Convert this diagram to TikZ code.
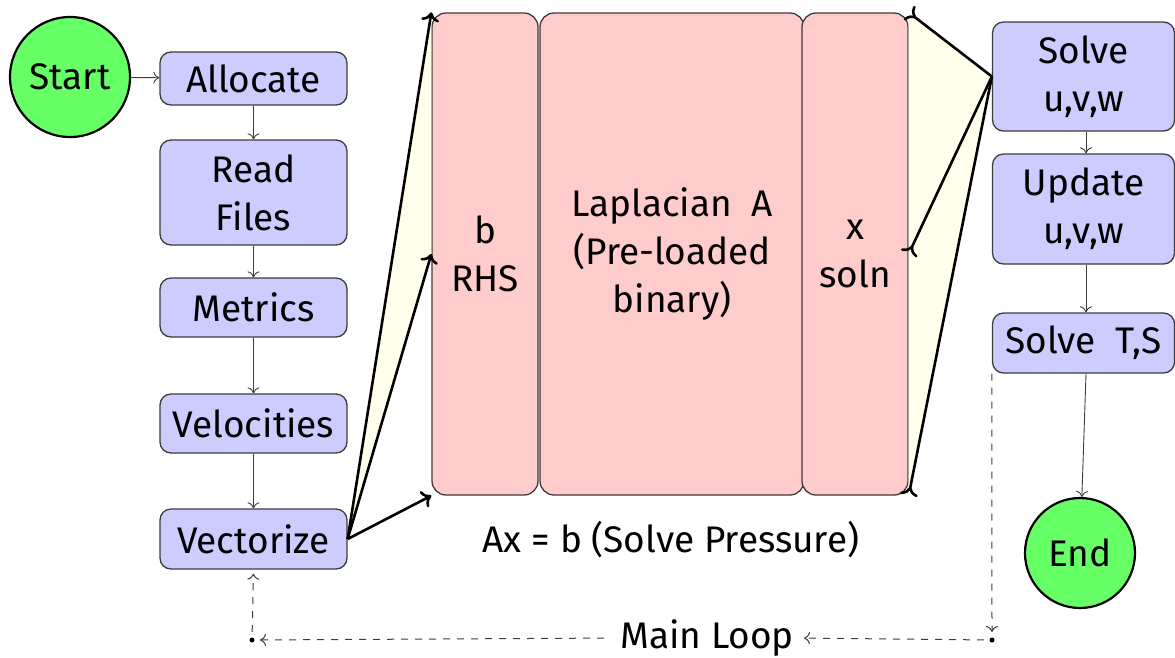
\documentclass[tikz,border=0pt]{standalone}
\usepackage{fontspec}
\setmainfont{Fira Sans}
\usetikzlibrary{arrows.meta}
\definecolor{lav}{RGB}{204,204,255}
\definecolor{pinkf}{RGB}{255,204,204}
\definecolor{greenf}{RGB}{102,255,102}
\definecolor{ivoryf}{RGB}{255,255,236}
\definecolor{edge}{RGB}{60,60,60}
\tikzset{
  blubox/.style={draw=edge, line width=1.3pt, fill=lav, rounded corners=11pt, align=center,
     font=\fontsize{37}{48}\selectfont, inner sep=0pt},
  pinkbox/.style={draw=edge, line width=1.3pt, fill=pinkf, rounded corners=14pt, align=center,
     font=\fontsize{37}{48}\selectfont, inner sep=0pt, minimum height=482pt},
  term/.style={circle, draw=black, line width=2.2pt, fill=greenf, inner sep=0pt,
     font=\fontsize{37}{44}\selectfont},
  thin/.style={draw=edge, line width=0.9pt, -{To[length=6pt,width=12pt]}},
  thick/.style={draw=black, line width=2.6pt},
  bigtip/.style={-{To[length=9pt,width=18pt]}},
  bigrev/.style={-{To[length=9pt,width=18pt,reversed]}},
  loopline/.style={draw=edge, line width=1pt, dash pattern=on 7pt off 7pt},
  looptip/.style={-{To[length=6pt,width=12pt]}}
}
\begin{document}
\begin{tikzpicture}[x=1pt,y=-1pt]
\useasboundingbox (0,0) rectangle (1175,657);
% left column
\node[term, minimum size=120pt] (start) at (70,77) {Start};
\node[blubox, minimum width=187pt, minimum height=53pt] (alloc) at (253.5,78.5) {Allocate};
\node[blubox, minimum width=187pt, minimum height=105pt] (read) at (253.5,192.5) {Read\\Files};
\node[blubox, minimum width=187pt, minimum height=59pt] (metr) at (253.5,307.5) {Metrics};
\node[blubox, minimum width=187pt, minimum height=59pt] (velo) at (253.5,423.5) {Velocities};
\node[blubox, minimum width=187pt, minimum height=60pt] (vec) at (253.5,539) {Vectorize};
% big matrix blocks
\node[pinkbox, minimum width=106pt] (b) at (485,254) {b\\RHS};
\node[pinkbox, minimum width=264pt] (lap) at (672,254) {Laplacian\ \ A\\(Pre-loaded\\binary)};
\node[pinkbox, minimum width=106pt] (x) at (855,254) {x\\soln};
\node[font=\fontsize{37}{44}\selectfont] (axb) at (671,540) {Ax = b (Solve Pressure)};
% right column
\node[blubox, minimum width=182pt, minimum height=109pt] (solve) at (1083.5,76.5) {Solve\\u,v,w};
\node[blubox, minimum width=182pt, minimum height=110pt] (upd) at (1083.5,209) {Update\\u,v,w};
\node[blubox, minimum width=182pt, minimum height=60pt] (sts) at (1083.5,343) {Solve\ \ T,S};
\node[term, minimum size=110pt] (end) at (1080,553) {End};
% thin arrows
\draw[thin] (start) -- (alloc);
\draw[thin] (alloc) -- (read);
\draw[thin] (read) -- (metr);
\draw[thin] (metr) -- (velo);
\draw[thin] (velo) -- (vec);
\draw[thin] (solve.south -| 1086,0) -- (upd.north -| 1086,0);
\draw[thin] (upd.south -| 1086,0) -- (sts.north -| 1086,0);
\draw[thin] (sts.south -| 1086,0) -- (end);
% left fan
\fill[ivoryf] (vec.east) -- (b.north west) -- (b.west) -- cycle;
\draw[thick, bigtip] (vec.east) -- (b.north west);
\draw[thick, bigtip] (vec.east) -- (b.west);
\draw[thick, bigtip] (vec.east) -- (b.south west);
% right fan
\fill[ivoryf] (x.north east) -- (solve.west) -- (x.south east) -- cycle;
\draw[thick, bigrev] (solve.west) -- (x.north east);
\draw[thick, bigrev] (solve.west) -- (x.east);
\draw[thick, bigrev] (solve.west) -- (x.south east);
% main loop
\coordinate (dR) at (992,640);
\coordinate (dL) at (252,640);
\node[font=\fontsize{37}{44}\selectfont, inner sep=2pt] (loop) at (707,638) {Main Loop};
\fill[black] (dR) circle (2.5pt);
\fill[black] (dL) circle (2.5pt);
\draw[loopline, looptip, shorten >=8pt] (sts.south west) -- (dR);
\draw[loopline, looptip, shorten <=8pt, shorten >=8pt] (dR) -- (loop.east);
\draw[loopline, looptip, shorten <=14pt, shorten >=8pt] (loop.west) -- (dL);
\draw[loopline, looptip, shorten <=8pt, shorten >=4pt] (dL) -- (vec.south);
\end{tikzpicture}
\end{document}
